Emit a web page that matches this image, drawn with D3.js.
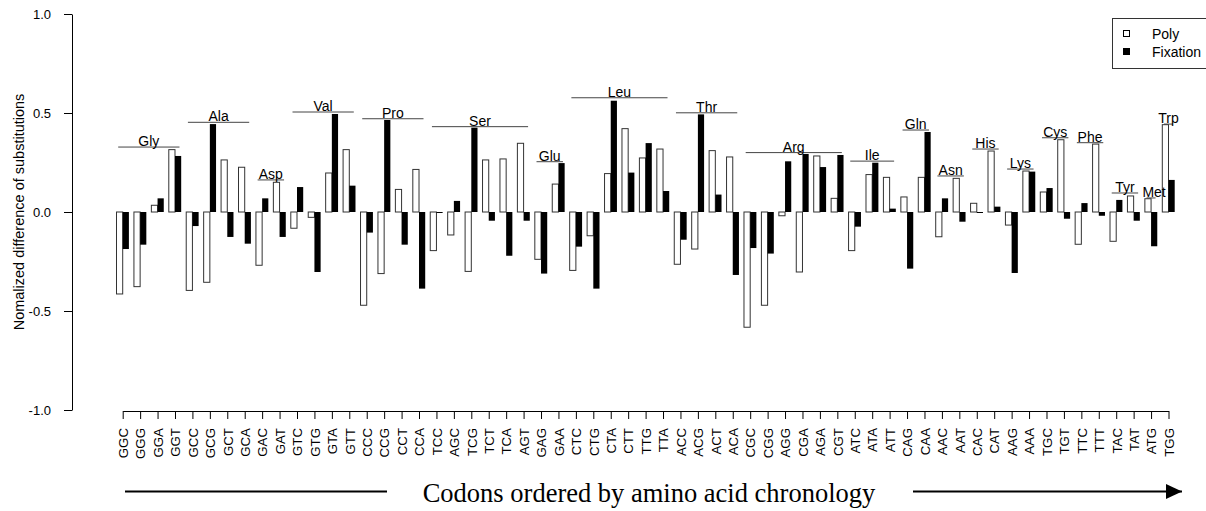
<!DOCTYPE html>
<html>
<head>
<meta charset="utf-8">
<script src="https://cdn.jsdelivr.net/npm/d3@7"></script>
<style>
  body { margin: 0; background: #fff; }
  svg text { font-family: Arial, "Liberation Sans", sans-serif; }
  .axis path, .axis line { stroke: #000; }
</style>
</head>
<body>
<div id="chart"></div>
<script>
// codons in chronological order of their amino acids
var codons = ["GGC","GGG","GGA","GGT","GCC","GCG","GCT","GCA","GAC","GAT","GTC","GTG","GTA","GTT",
  "CCC","CCG","CCT","CCA","TCC","AGC","TCG","TCT","TCA","AGT","GAG","GAA","CTC","CTG","CTA","CTT",
  "TTG","TTA","ACC","ACG","ACT","ACA","CGC","CGG","AGG","CGA","AGA","CGT","ATC","ATA","ATT","CAG",
  "CAA","AAC","AAT","CAC","CAT","AAG","AAA","TGC","TGT","TTC","TTT","TAC","TAT","ATG","TGG"];

// normalized difference of substitutions
var poly = [-0.414,-0.377,0.034,0.315,-0.396,-0.355,0.263,0.226,-0.269,0.150,-0.082,-0.027,0.197,0.315,
  -0.471,-0.311,0.114,0.215,-0.195,-0.116,-0.300,0.263,0.268,0.347,-0.239,0.141,-0.295,-0.120,0.194,0.421,
  0.273,0.318,-0.264,-0.187,0.310,0.278,-0.582,-0.471,-0.019,-0.303,0.283,0.069,-0.195,0.189,0.175,0.076,
  0.175,-0.125,0.170,0.044,0.308,-0.066,0.207,0.101,0.365,-0.163,0.343,-0.148,0.081,0.067,0.441];
var fixation = [-0.187,-0.165,0.069,0.283,-0.071,0.444,-0.126,-0.160,0.069,-0.126,0.126,-0.303,0.495,0.133,
  -0.104,0.465,-0.165,-0.387,-0.005,0.056,0.426,-0.044,-0.221,-0.044,-0.311,0.247,-0.175,-0.387,0.562,0.199,
  0.348,0.106,-0.140,0.493,0.088,-0.318,-0.182,-0.210,0.256,0.293,0.227,0.288,-0.074,0.249,0.017,-0.286,
  0.404,0.069,-0.049,-0.004,0.027,-0.308,0.204,0.121,-0.034,0.045,-0.019,0.061,-0.044,-0.173,0.162];

// amino acid groups, number of codons in each, and height of their label bar
var aminoAcids = ["Gly","Ala","Asp","Val","Pro","Ser","Glu","Leu","Thr","Arg","Ile","Gln","Asn","His",
  "Lys","Cys","Phe","Tyr","Met","Trp"];
var aaCounts = [4,4,2,4,4,6,2,6,4,6,3,2,2,2,2,2,2,2,1,1];
var aaLevel = [0.328,0.453,0.162,0.505,0.471,0.431,0.254,0.577,0.501,0.300,0.257,0.414,0.182,0.318,
  0.217,0.375,0.350,0.096,0.071,0.444];

var yTicks = [-1, -0.5, 0, 0.5, 1];
var seriesNames = ["Poly", "Fixation"];

var width = 1206, height = 511;
var svg = d3.select("#chart").append("svg").attr("width", width).attr("height", height);

var x = d3.scalePoint().domain(codons).range([122.7, 1168.5]);
var y = d3.scaleLinear().domain([-1, 1]).range([410, 14]);
var barW = 6.2;

// y axis
var fmt = function (d) { return d3.format(".1f")(d).replace("\u2212", "-"); };
var yAxis = svg.append("g").attr("class", "axis")
    .attr("transform", "translate(72,0)")
    .call(d3.axisLeft(y).tickValues(yTicks).tickFormat(fmt).tickSize(8).tickSizeOuter(0));
yAxis.selectAll("text").attr("font-size", 13).attr("fill", "#000").attr("dx", -10);

svg.append("text")
    .attr("transform", "translate(24,212) rotate(-90)")
    .attr("text-anchor", "middle")
    .attr("font-size", 14.5)
    .text("Nomalized difference of substitutions");

// x axis with rotated codon labels
var xAxis = svg.append("g").attr("class", "axis")
    .attr("transform", "translate(0,411)")
    .call(d3.axisBottom(x).tickSize(8).tickSizeOuter(0));
xAxis.selectAll("text")
    .attr("font-size", 13.3).attr("fill", "#000")
    .attr("transform", "rotate(-90)")
    .attr("text-anchor", "end")
    .attr("x", -17).attr("y", 0).attr("dy", "0.36em");

// bars
var bars = svg.append("g");
bars.selectAll("rect.poly").data(poly).enter().append("rect")
    .attr("class", "poly")
    .attr("x", function (d, i) { return x(codons[i]) - barW; })
    .attr("y", function (d) { return y(Math.max(0, d)); })
    .attr("width", barW)
    .attr("height", function (d) { return Math.abs(y(d) - y(0)); })
    .attr("fill", "#fff").attr("stroke", "#333").attr("stroke-width", 1);
bars.selectAll("rect.fix").data(fixation).enter().append("rect")
    .attr("class", "fix")
    .attr("x", function (d, i) { return x(codons[i]); })
    .attr("y", function (d) { return y(Math.max(0, d)); })
    .attr("width", barW)
    .attr("height", function (d) { return Math.max(1, Math.abs(y(d) - y(0))); })
    .attr("fill", "#000");

// amino acid labels with a bar over their codons
var start = 0;
var groups = aminoAcids.map(function (name, i) {
  var g = { name: name, first: codons[start], last: codons[start + aaCounts[i] - 1], level: aaLevel[i] };
  start += aaCounts[i];
  return g;
});
var aa = svg.append("g").selectAll("g").data(groups).enter().append("g");
aa.append("line")
    .attr("x1", function (d) { return x(d.first) - 4.5; })
    .attr("x2", function (d) { return x(d.last) + 4.5; })
    .attr("y1", function (d) { return y(d.level); })
    .attr("y2", function (d) { return y(d.level); })
    .attr("stroke", "#444").attr("stroke-width", 1);
aa.append("text")
    .attr("x", function (d) { return (x(d.first) + x(d.last)) / 2 + (d.name === "Met" ? 3 : 0); })
    .attr("y", function (d) { return y(d.level) - 1; })
    .attr("text-anchor", "middle")
    .attr("font-size", 14)
    .text(function (d) { return d.name; });

// legend
var lg = svg.append("g");
lg.append("rect").attr("x", 1112.5).attr("y", 18.5).attr("width", 110).attr("height", 50)
    .attr("fill", "none").attr("stroke", "#333");
seriesNames.forEach(function (s, i) {
  lg.append("rect").attr("x", 1123.5).attr("y", 30.5 + i * 18).attr("width", 6).attr("height", 6)
      .attr("fill", i ? "#000" : "#fff").attr("stroke", "#000");
  lg.append("text").attr("x", 1152).attr("y", 39 + i * 18).attr("font-size", 14).text(s);
});

// bottom title with arrow
svg.append("defs").append("marker")
    .attr("id", "arrow").attr("viewBox", "0 0 10 10").attr("refX", 10).attr("refY", 5)
    .attr("markerWidth", 16).attr("markerHeight", 15).attr("markerUnits", "userSpaceOnUse")
    .attr("orient", "auto").attr("preserveAspectRatio", "none")
  .append("path").attr("d", "M0,0L10,5L0,10z").attr("fill", "#000");
svg.append("line").attr("x1", 125).attr("x2", 387).attr("y1", 491.5).attr("y2", 491.5)
    .attr("stroke", "#000").attr("stroke-width", 2);
svg.append("line").attr("x1", 913).attr("x2", 1182).attr("y1", 491.5).attr("y2", 491.5)
    .attr("stroke", "#000").attr("stroke-width", 2)
    .attr("marker-end", "url(#arrow)");
svg.append("text")
    .attr("x", 649).attr("y", 502)
    .attr("text-anchor", "middle")
    .style("font-family", "'Times New Roman', 'Liberation Serif', serif")
    .attr("font-size", 26.5)
    .text("Codons ordered by amino acid chronology");
</script>
</body>
</html>
